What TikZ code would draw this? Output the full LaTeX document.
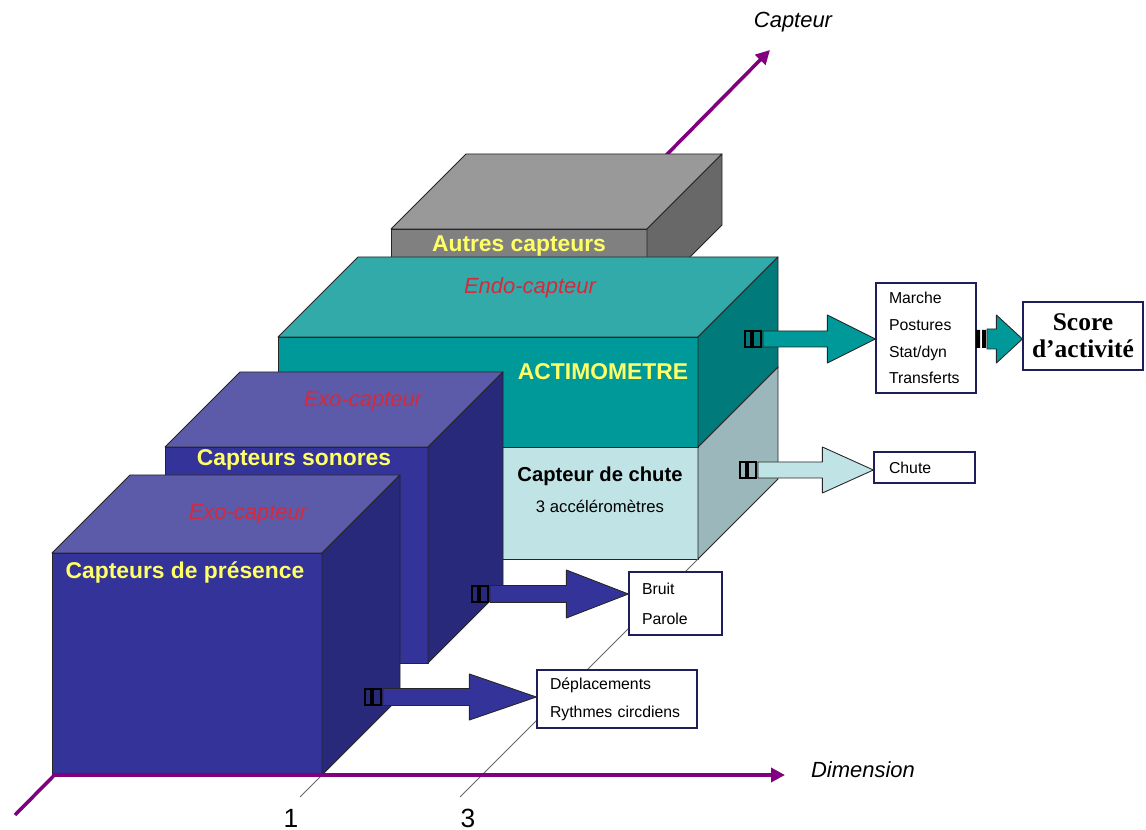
\documentclass[tikz,border=0pt]{standalone}
\usepackage{fontspec}
\setmainfont{Liberation Sans}
\newfontfamily\scorefont{Liberation Serif}
\usetikzlibrary{arrows.meta,calc}

\definecolor{axisviolet}{HTML}{800080}
\definecolor{bluefront}{HTML}{333399}
\definecolor{bluetop}{HTML}{5B5BAA}
\definecolor{blueside}{HTML}{29297B}
\definecolor{tealfront}{HTML}{009999}
\definecolor{tealtop}{HTML}{33AAAA}
\definecolor{tealside}{HTML}{007A7A}
\definecolor{chutefront}{HTML}{C0E3E6}
\definecolor{chuteside}{HTML}{9BB7BB}
\definecolor{greyfront}{HTML}{808080}
\definecolor{greytop}{HTML}{999999}
\definecolor{greyside}{HTML}{686868}
\definecolor{labelyellow}{HTML}{FFFF66}
\definecolor{labelred}{HTML}{D42A3C}
\definecolor{boxedge}{HTML}{1E1E5A}

% x left, y top, x right, y bottom, depth, front, top, side
\newcommand{\drawcuboid}[8]{%
  \filldraw[boxline, fill=#6] (#1,#2) rectangle (#3,#4);
  \filldraw[boxline, fill=#7] (#1,#2) -- ++(#5,-#5) -- ({#3+#5},{#2-#5}) -- (#3,#2) -- cycle;
  \filldraw[boxline, fill=#8] (#3,#2) -- ++(#5,-#5) -- ({#3+#5},{#4-#5}) -- (#3,#4) -- cycle;
}
% fill, start, tip, head length, head half height, shaft half height
\newcommand{\blockarrow}[6]{%
  \filldraw[boxline, fill=#1] ($(#2)+(0,-#6)$) -- ($(#3)+(-#4,-#6)$) -- ($(#3)+(-#4,-#5)$) -- (#3)
    -- ($(#3)+(-#4,#5)$) -- ($(#3)+(-#4,#6)$) -- ($(#2)+(0,#6)$) -- cycle;
}
\newcommand{\plugpair}[1]{%
  \draw[plugline] ($(#1)+(-18,-8)$) rectangle ($(#1)+(-12,8)$) ($(#1)+(-10,-8)$) rectangle ($(#1)+(-2,8)$);
}

\begin{document}
\begin{tikzpicture}[x=0.02cm, y=-0.02cm,
  every node/.style={inner sep=1pt},
  >={Triangle[length=2.8mm, width=2.8mm]},
  boxline/.style={draw=black!85, line width=0.5pt, line join=round},
  plugline/.style={draw=black, line width=0.6pt},
  axisline/.style={->, axisviolet, line width=2pt},
  yellowlabel/.style={text=labelyellow, font=\bfseries\fontsize{13}{15}\selectfont},
  redlabel/.style={text=labelred, font=\itshape\fontsize{12.5}{14}\selectfont},
  axislabel/.style={font=\itshape\fontsize{12.5}{14}\selectfont},
  outbox/.style={draw=boxedge, fill=white, line width=0.7pt, align=left, inner xsep=0.26cm, inner ysep=0pt, font=\fontsize{9}{16}\selectfont},
  tickline/.style={draw=gray!80!black, line width=0.5pt}]

\useasboundingbox (0,0) rectangle (1146,830);

% axe capteur
\coordinate (captail) at (15,815);
\coordinate (capend) at (770,50);
\coordinate (origin) at (52,775);
\coordinate (dimend) at (785,775);
\draw[axisline] (captail) -- (capend);
\node[axislabel] (capteur) at (793,22) {Capteur};

% boites
\drawcuboid{391}{229}{647}{300}{75}{greyfront}{greytop}{greyside}
\node[yellowlabel] (autres) at (519,246) {Autres capteurs};

\drawcuboid{278}{447}{698}{559}{80}{chutefront}{chutefront}{chuteside}
\node[font=\bfseries\fontsize{11.5}{13}\selectfont] (chute) at (600,476) {Capteur de chute};
\node[font=\fontsize{9.5}{11}\selectfont] (accel) at (600,506) {3 accéléromètres};

\drawcuboid{278}{337}{698}{447}{80}{tealfront}{tealtop}{tealside}
\node[redlabel] (endo) at (530,288) {Endo-capteur};
\node[yellowlabel] (acti) at (603,372) {ACTIMOMETRE};

\coordinate (tick3) at (460,797);
\coordinate (chutecorner) at (698,559);
\draw[tickline] (tick3) -- (chutecorner);

\drawcuboid{165}{447}{428}{663}{75}{bluefront}{bluetop}{blueside}
\node[redlabel] (exoson) at (363,401) {Exo-capteur};
\node[yellowlabel] (sonores) at (294,460) {Capteurs sonores};

\drawcuboid{52}{553}{322}{775}{78}{bluefront}{bluetop}{blueside}
\node[redlabel] (exopres) at (248,514) {Exo-capteur};
\node[yellowlabel] (presence) at (185,572) {Capteurs de présence};

\coordinate (tick1) at (300,797);
\coordinate (prescorner) at (322,775);
\draw[tickline] (tick1) -- (prescorner);
\node[font=\fontsize{15}{17}\selectfont] (one) at (291,818) {1};
\node[font=\fontsize{15}{17}\selectfont] (three) at (468,818) {3};

% axe dimension
\draw[axisline] (origin) -- (dimend);
\node[axislabel] (dimension) at (863,770) {Dimension};

% sorties
\node[outbox, text width=1.48cm, minimum height=2.2cm, font=\fontsize{9}{15.3}\selectfont] (marche) at (926,338) {Marche\\Postures\\Stat/dyn\\Transferts};
\node[outbox, text width=2.4cm, inner xsep=0pt, align=center, minimum height=1.36cm, font=\scorefont\bfseries\fontsize{14.5}{15.5}\selectfont] (score) at (1083,336) {Score\\d’activité};
\node[outbox, text width=1.42cm, inner xsep=0.3cm, minimum height=0.62cm] (chuteout) at (924.5,467.5) {Chute};
\node[outbox, text width=1.34cm, minimum height=1.26cm, font=\fontsize{9}{17}\selectfont] (bruit) at (675.5,603.5) {Bruit\\Parole};
\node[outbox, text width=2.68cm, minimum height=1.16cm] (depl) at (617,699) {Déplacements\\Rythmes circdiens};

% fleches
\coordinate (sa) at (763,339);
\coordinate (sd) at (987,339);
\coordinate (sc) at (758,470);
\coordinate (sb) at (490,594);
\coordinate (sp) at (383,697);
\coordinate (ta) at (marche.west |- sa);
\coordinate (td) at (score.west |- sd);
\coordinate (tc) at (chuteout.west |- sc);
\coordinate (tb) at (bruit.west |- sb);
\coordinate (tp) at (depl.west |- sp);

\blockarrow{tealfront}{sa}{ta}{48}{24}{8}
\plugpair{sa}
\blockarrow{tealfront}{sd}{td}{26}{24}{10}
\fill[black] ($(sd)+(-11,-9)$) rectangle ($(sd)+(-7,9)$) ($(sd)+(-5,-9)$) rectangle ($(sd)+(-1,9)$);
\blockarrow{chutefront}{sc}{tc}{51}{23}{8}
\plugpair{sc}
\blockarrow{bluefront}{sb}{tb}{62}{24}{8.5}
\plugpair{sb}
\blockarrow{bluefront}{sp}{tp}{67}{23}{8.5}
\plugpair{sp}
\end{tikzpicture}
\end{document}
